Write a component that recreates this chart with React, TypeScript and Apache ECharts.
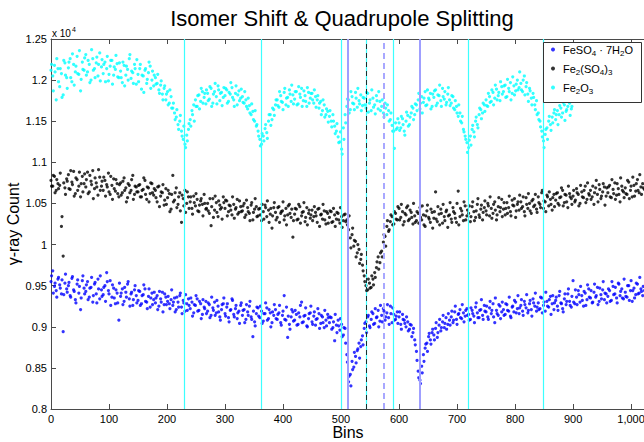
import React, { useEffect, useRef } from "react";
import * as echarts from "echarts";

// channel step between listed values (bins); set A starts at bin 0, set B at bin 1
const STEP = 3;

// Fe2O3 counts (x10^4), set A: bins 0,3,...,897
const fe2o3A = [
  1.212, 1.205, 1.218, 1.176, 1.214, 1.192, 1.208, 1.182, 1.221, 1.203,
  1.215, 1.226, 1.198, 1.219, 1.210, 1.229, 1.207, 1.187, 1.222, 1.212,
  1.231, 1.210, 1.219, 1.200, 1.226, 1.214, 1.221, 1.205, 1.233, 1.216,
  1.208, 1.222, 1.214, 1.199, 1.217, 1.224, 1.206, 1.213, 1.220, 1.203,
  1.211, 1.197, 1.218, 1.206, 1.213, 1.226, 1.202, 1.209, 1.219, 1.195,
  1.207, 1.214, 1.189, 1.205, 1.212, 1.196, 1.209, 1.217, 1.200, 1.193,
  1.203, 1.196, 1.188, 1.194, 1.183, 1.190, 1.176, 1.186, 1.172, 1.180,
  1.166, 1.160, 1.155, 1.146, 1.150, 1.138, 1.128, 1.122, 1.133, 1.140,
  1.152, 1.163, 1.170, 1.176, 1.168, 1.182, 1.174, 1.186, 1.179, 1.171,
  1.184, 1.177, 1.190, 1.172, 1.186, 1.180, 1.193, 1.175, 1.185, 1.179,
  1.181, 1.188, 1.174, 1.183, 1.191, 1.176, 1.184, 1.170, 1.187, 1.178,
  1.180, 1.172, 1.176, 1.165, 1.169, 1.158, 1.162, 1.150, 1.144, 1.138,
  1.128, 1.122, 1.132, 1.141, 1.136, 1.150, 1.158, 1.152, 1.164, 1.170,
  1.176, 1.167, 1.181, 1.173, 1.185, 1.170, 1.179, 1.188, 1.174, 1.182,
  1.177, 1.186, 1.171, 1.183, 1.190, 1.175, 1.181, 1.168, 1.185, 1.178,
  1.184, 1.172, 1.180, 1.176, 1.166, 1.174, 1.163, 1.170, 1.158, 1.162,
  1.156, 1.150, 1.158, 1.144, 1.138, 1.131, 1.125, 1.116, 1.142, 1.158,
  1.168, 1.176, 1.164, 1.180, 1.171, 1.185, 1.167, 1.175, 1.182, 1.169,
  1.178, 1.166, 1.184, 1.172, 1.163, 1.178, 1.170, 1.181, 1.165, 1.174,
  1.168, 1.160, 1.172, 1.158, 1.163, 1.152, 1.145, 1.138, 1.148, 1.142,
  1.148, 1.142, 1.153, 1.138, 1.150, 1.157, 1.146, 1.160, 1.166, 1.158,
  1.170, 1.176, 1.165, 1.180, 1.173, 1.186, 1.170, 1.178, 1.184, 1.168,
  1.179, 1.188, 1.172, 1.181, 1.175, 1.190, 1.177, 1.170, 1.183, 1.176,
  1.172, 1.180, 1.164, 1.168, 1.156, 1.160, 1.148, 1.140, 1.132, 1.124,
  1.118, 1.132, 1.140, 1.137, 1.150, 1.146, 1.158, 1.164, 1.160, 1.170,
  1.176, 1.168, 1.180, 1.174, 1.185, 1.178, 1.189, 1.181, 1.175, 1.192,
  1.186, 1.194, 1.180, 1.190, 1.197, 1.184, 1.193, 1.187, 1.200, 1.191,
  1.196, 1.186, 1.205, 1.192, 1.183, 1.190, 1.178, 1.184, 1.170, 1.175,
  1.160, 1.150, 1.138, 1.126, 1.134, 1.142, 1.150, 1.146, 1.155, 1.160,
  1.152, 1.163, 1.158, 1.166, 1.160, 1.170, 1.162, 1.168, 1.172, 1.165,
];
// Fe2O3 set B: bins 1,4,...,898
const fe2o3B = [
  1.219, 1.187, 1.210, 1.226, 1.198, 1.214, 1.179, 1.224, 1.206, 1.190,
  1.222, 1.203, 1.232, 1.194, 1.217, 1.208, 1.236, 1.201, 1.213, 1.227,
  1.206, 1.224, 1.197, 1.237, 1.212, 1.203, 1.228, 1.219, 1.199, 1.225,
  1.219, 1.198, 1.229, 1.207, 1.224, 1.195, 1.216, 1.230, 1.204, 1.221,
  1.203, 1.222, 1.193, 1.217, 1.200, 1.231, 1.211, 1.196, 1.214, 1.225,
  1.198, 1.219, 1.206, 1.185, 1.214, 1.201, 1.222, 1.190, 1.211, 1.206,
  1.195, 1.207, 1.184, 1.199, 1.176, 1.193, 1.183, 1.170, 1.188, 1.166,
  1.172, 1.152, 1.164, 1.140, 1.157, 1.132, 1.144, 1.118, 1.126, 1.147,
  1.144, 1.158, 1.150, 1.168, 1.181, 1.165, 1.190, 1.172, 1.184, 1.188,
  1.175, 1.192, 1.168, 1.183, 1.196, 1.171, 1.188, 1.184, 1.169, 1.191,
  1.190, 1.172, 1.185, 1.197, 1.179, 1.168, 1.193, 1.182, 1.175, 1.189,
  1.173, 1.186, 1.168, 1.178, 1.160, 1.171, 1.152, 1.163, 1.146, 1.132,
  1.120, 1.135, 1.126, 1.146, 1.129, 1.158, 1.145, 1.166, 1.157, 1.176,
  1.169, 1.186, 1.174, 1.164, 1.190, 1.178, 1.168, 1.183, 1.194, 1.171,
  1.186, 1.170, 1.192, 1.179, 1.168, 1.187, 1.174, 1.191, 1.172, 1.184,
  1.176, 1.188, 1.167, 1.181, 1.172, 1.158, 1.176, 1.155, 1.165, 1.149,
  1.163, 1.143, 1.150, 1.135, 1.147, 1.124, 1.137, 1.110, 1.128, 1.148,
  1.177, 1.160, 1.186, 1.172, 1.164, 1.178, 1.190, 1.171, 1.163, 1.179,
  1.170, 1.185, 1.161, 1.176, 1.188, 1.167, 1.159, 1.175, 1.186, 1.163,
  1.176, 1.155, 1.166, 1.170, 1.150, 1.160, 1.138, 1.117, 1.140, 1.153,
  1.139, 1.156, 1.146, 1.133, 1.161, 1.144, 1.155, 1.168, 1.152, 1.171,
  1.163, 1.184, 1.172, 1.160, 1.178, 1.169, 1.188, 1.176, 1.165, 1.183,
  1.187, 1.169, 1.182, 1.194, 1.168, 1.180, 1.186, 1.173, 1.191, 1.169,
  1.181, 1.166, 1.175, 1.160, 1.170, 1.150, 1.156, 1.137, 1.128, 1.112,
  1.127, 1.121, 1.145, 1.131, 1.155, 1.142, 1.166, 1.153, 1.172, 1.162,
  1.169, 1.184, 1.173, 1.188, 1.170, 1.194, 1.176, 1.185, 1.198, 1.183,
  1.193, 1.179, 1.201, 1.186, 1.176, 1.204, 1.182, 1.195, 1.188, 1.210,
  1.188, 1.200, 1.182, 1.197, 1.174, 1.187, 1.170, 1.179, 1.164, 1.158,
  1.152, 1.143, 1.131, 1.118, 1.140, 1.128, 1.156, 1.139, 1.148, 1.164,
  1.158, 1.146, 1.169, 1.155, 1.173, 1.151, 1.164, 1.174, 1.157, 1.168,
];

// Fe2(SO4)3 counts (x10^4), set A: bins 0,3,...,1023
const fe2so43A = [
  1.078, 1.071, 1.083, 1.066, 1.074, 1.072, 1.022, 0.986, 1.069, 1.080,
  1.085, 1.067, 1.076, 1.089, 1.062, 1.079, 1.071, 1.058, 1.083, 1.074,
  1.070, 1.088, 1.064, 1.077, 1.090, 1.068, 1.075, 1.060, 1.082, 1.071,
  1.066, 1.078, 1.073, 1.087, 1.061, 1.072, 1.080, 1.065, 1.074, 1.058,
  1.075, 1.063, 1.081, 1.069, 1.057, 1.072, 1.066, 1.084, 1.061, 1.070,
  1.064, 1.073, 1.058, 1.067, 1.078, 1.055, 1.069, 1.062, 1.074, 1.060,
  1.066, 1.052, 1.071, 1.059, 1.063, 1.048, 1.068, 1.057, 1.062, 1.043,
  1.084, 1.054, 1.069, 1.049, 1.063, 1.027, 1.056, 1.066, 1.050, 1.058,
  1.052, 1.044, 1.059, 1.047, 1.055, 1.040, 1.053, 1.049, 1.061, 1.043,
  1.050, 1.038, 1.023, 1.056, 1.042, 1.051, 1.034, 1.048, 1.045, 1.058,
  1.044, 1.053, 1.040, 1.047, 1.036, 1.049, 1.043, 1.055, 1.039, 1.046,
  1.041, 1.050, 1.036, 1.045, 1.038, 1.048, 1.030, 1.043, 1.046, 1.035,
  1.044, 1.029, 1.040, 1.048, 1.034, 1.042, 1.037, 1.020, 1.045, 1.039,
  1.033, 1.046, 1.038, 1.041, 1.030, 1.044, 1.036, 1.049, 1.033, 1.009,
  1.037, 1.043, 1.031, 1.046, 1.035, 1.040, 1.028, 1.045, 1.038, 1.032,
  1.042, 1.034, 1.039, 1.027, 1.044, 1.036, 1.031, 1.041, 1.025, 1.038,
  1.033, 1.040, 1.028, 1.036, 1.031, 1.038, 1.026, 1.034, 1.029, 1.037,
  1.030, 1.018, 1.008, 1.012, 0.998, 1.004, 0.990, 0.994, 0.982, 0.975,
  0.962, 0.950, 0.945, 0.953, 0.948, 0.958, 0.966, 0.972, 0.985, 0.978,
  0.992, 1.003, 1.010, 1.022, 1.016, 1.028, 1.034, 1.025, 1.038, 1.030,
  1.044, 1.033, 1.040, 1.028, 1.036, 1.047, 1.031, 1.039, 1.025, 1.035,
  1.029, 1.038, 1.045, 1.030, 1.036, 1.022, 1.041, 1.033, 1.027, 1.039,
  1.032, 1.064, 1.028, 1.037, 1.043, 1.026, 1.034, 1.040, 1.021, 1.036,
  1.031, 1.045, 1.038, 1.027, 1.065, 1.034, 1.041, 1.029, 1.047, 1.035,
  1.038, 1.028, 1.046, 1.040, 1.033, 1.049, 1.036, 1.043, 1.030, 1.045,
  1.041, 1.050, 1.035, 1.044, 1.038, 1.052, 1.030, 1.046, 1.040, 1.055,
  1.043, 1.036, 1.051, 1.045, 1.040, 1.054, 1.047, 1.033, 1.049, 1.042,
  1.052, 1.046, 1.040, 1.057, 1.044, 1.050, 1.038, 1.055, 1.048, 1.043,
  1.058, 1.049, 1.063, 1.044, 1.052, 1.060, 1.047, 1.055, 1.042, 1.061,
  1.054, 1.063, 1.048, 1.058, 1.066, 1.051, 1.060, 1.045, 1.062, 1.056,
  1.059, 1.052, 1.068, 1.061, 1.050, 1.064, 1.057, 1.071, 1.055, 1.062,
  1.066, 1.058, 1.049, 1.069, 1.061, 1.073, 1.056, 1.064, 1.070, 1.059,
  1.063, 1.072, 1.057, 1.067, 1.075, 1.060, 1.068, 1.052, 1.071, 1.064,
  1.069, 1.061, 1.076, 1.066, 1.058, 1.072, 1.065, 1.079, 1.063, 1.070,
  1.074, 1.067,
];
// Fe2(SO4)3 set B: bins 1,4,...,1021
const fe2so43B = [
  1.071, 1.084, 1.063, 1.079, 1.068, 1.087, 1.034, 1.075, 1.061, 1.077,
  1.068, 1.090, 1.073, 1.059, 1.081, 1.066, 1.088, 1.074, 1.064, 1.086,
  1.079, 1.062, 1.084, 1.073, 1.056, 1.081, 1.070, 1.091, 1.066, 1.077,
  1.082, 1.059, 1.070, 1.064, 1.083, 1.055, 1.068, 1.079, 1.062, 1.073,
  1.060, 1.077, 1.066, 1.052, 1.074, 1.063, 1.079, 1.055, 1.071, 1.064,
  1.072, 1.058, 1.066, 1.081, 1.061, 1.070, 1.052, 1.075, 1.063, 1.068,
  1.057, 1.070, 1.046, 1.064, 1.073, 1.054, 1.049, 1.066, 1.040, 1.061,
  1.052, 1.063, 1.045, 1.058, 1.041, 1.060, 1.047, 1.039, 1.064, 1.044,
  1.058, 1.037, 1.051, 1.062, 1.041, 1.048, 1.056, 1.035, 1.050, 1.044,
  1.041, 1.056, 1.046, 1.033, 1.059, 1.039, 1.053, 1.043, 1.031, 1.051,
  1.054, 1.035, 1.048, 1.042, 1.058, 1.032, 1.045, 1.037, 1.053, 1.040,
  1.047, 1.033, 1.054, 1.040, 1.029, 1.051, 1.039, 1.056, 1.034, 1.043,
  1.036, 1.049, 1.031, 1.045, 1.053, 1.027, 1.044, 1.035, 1.051, 1.030,
  1.045, 1.027, 1.040, 1.052, 1.035, 1.024, 1.047, 1.038, 1.043, 1.029,
  1.044, 1.030, 1.049, 1.026, 1.039, 1.051, 1.033, 1.024, 1.042, 1.036,
  1.029, 1.046, 1.035, 1.043, 1.022, 1.037, 1.049, 1.030, 1.040, 1.026,
  1.041, 1.027, 1.044, 1.022, 1.039, 1.030, 1.045, 1.021, 1.036, 1.028,
  1.024, 1.035, 0.996, 1.020, 1.005, 0.985, 1.000, 0.977, 0.988, 0.968,
  0.955, 0.944, 0.958, 0.947, 0.962, 0.951, 0.960, 0.979, 0.970, 0.990,
  0.985, 1.012, 0.998, 1.029, 1.018, 1.036, 1.024, 1.040, 1.031, 1.046,
  1.030, 1.049, 1.024, 1.038, 1.045, 1.029, 1.042, 1.033, 1.050, 1.027,
  1.040, 1.026, 1.033, 1.047, 1.024, 1.035, 1.048, 1.031, 1.043, 1.020,
  1.040, 1.031, 1.046, 1.024, 1.038, 1.049, 1.029, 1.042, 1.035, 1.051,
  1.027, 1.040, 1.032, 1.050, 1.024, 1.044, 1.036, 1.052, 1.030, 1.042,
  1.047, 1.034, 1.052, 1.029, 1.041, 1.056, 1.033, 1.048, 1.039, 1.053,
  1.036, 1.047, 1.058, 1.032, 1.049, 1.042, 1.036, 1.057, 1.045, 1.034,
  1.051, 1.044, 1.038, 1.059, 1.035, 1.048, 1.056, 1.041, 1.052, 1.060,
  1.044, 1.058, 1.035, 1.049, 1.062, 1.041, 1.053, 1.046, 1.061, 1.039,
  1.051, 1.045, 1.066, 1.053, 1.040, 1.058, 1.064, 1.049, 1.057, 1.046,
  1.062, 1.050, 1.057, 1.069, 1.047, 1.061, 1.052, 1.071, 1.058, 1.049,
  1.066, 1.054, 1.063, 1.047, 1.072, 1.058, 1.066, 1.051, 1.075, 1.060,
  1.055, 1.071, 1.063, 1.078, 1.052, 1.067, 1.059, 1.074, 1.048, 1.069,
  1.070, 1.058, 1.079, 1.062, 1.055, 1.074, 1.061, 1.081, 1.066, 1.057,
  1.062, 1.078, 1.056, 1.071, 1.082, 1.059, 1.074, 1.066, 1.085, 1.061,
  1.069,
];

// FeSO4·7H2O counts (x10^4), set A: bins 0,3,...,1023
const feso4A = [
  0.955, 0.968, 0.949, 0.944, 0.958, 0.951, 0.940, 0.894, 0.953, 0.946,
  0.950, 0.938, 0.959, 0.945, 0.933, 0.952, 0.941, 0.921, 0.956, 0.947,
  0.943, 0.955, 0.936, 0.948, 0.930, 0.952, 0.940, 0.958, 0.934, 0.945,
  0.939, 0.950, 0.966, 0.944, 0.956, 0.936, 0.947, 0.928, 0.941, 0.908,
  0.937, 0.946, 0.931, 0.942, 0.952, 0.934, 0.940, 0.926, 0.945, 0.938,
  0.932, 0.943, 0.928, 0.939, 0.946, 0.930, 0.937, 0.924, 0.941, 0.933,
  0.929, 0.938, 0.925, 0.934, 0.942, 0.927, 0.936, 0.931, 0.928, 0.933,
  0.926, 0.935, 0.921, 0.930, 0.938, 0.924, 0.932, 0.919, 0.928, 0.934,
  0.922, 0.930, 0.917, 0.926, 0.934, 0.920, 0.928, 0.915, 0.924, 0.931,
  0.919, 0.927, 0.914, 0.923, 0.930, 0.917, 0.925, 0.912, 0.921, 0.928,
  0.916, 0.924, 0.911, 0.920, 0.934, 0.915, 0.922, 0.910, 0.919, 0.926,
  0.914, 0.921, 0.909, 0.918, 0.925, 0.912, 0.888, 0.906, 0.916, 0.923,
  0.911, 0.919, 0.907, 0.916, 0.923, 0.910, 0.917, 0.905, 0.914, 0.921,
  0.909, 0.917, 0.905, 0.914, 0.938, 0.908, 0.887, 0.903, 0.912, 0.918,
  0.908, 0.915, 0.903, 0.912, 0.930, 0.906, 0.914, 0.901, 0.910, 0.917,
  0.906, 0.913, 0.902, 0.910, 0.916, 0.904, 0.912, 0.899, 0.908, 0.915,
  0.905, 0.911, 0.899, 0.883, 0.902, 0.908, 0.896, 0.903, 0.890, 0.898,
  0.866, 0.833, 0.842, 0.858, 0.851, 0.864, 0.871, 0.880, 0.876, 0.889,
  0.898, 0.906, 0.912, 0.901, 0.909, 0.916, 0.904, 0.911, 0.920, 0.907,
  0.914, 0.922, 0.908, 0.917, 0.911, 0.925, 0.905, 0.915, 0.909, 0.918,
  0.912, 0.903, 0.915, 0.908, 0.900, 0.906, 0.897, 0.902, 0.893, 0.884,
  0.870, 0.846, 0.835, 0.852, 0.866, 0.874, 0.880, 0.888, 0.884, 0.893,
  0.890, 0.898, 0.887, 0.902, 0.895, 0.906, 0.899, 0.911, 0.903, 0.908,
  0.912, 0.905, 0.918, 0.909, 0.915, 0.921, 0.910, 0.917, 0.913, 0.922,
  0.915, 0.909, 0.920, 0.913, 0.924, 0.917, 0.911, 0.921, 0.914, 0.926,
  0.918, 0.912, 0.923, 0.916, 0.928, 0.905, 0.920, 0.914, 0.925, 0.918,
  0.921, 0.915, 0.927, 0.919, 0.913, 0.924, 0.918, 0.930, 0.922, 0.916,
  0.926, 0.919, 0.931, 0.923, 0.917, 0.928, 0.921, 0.934, 0.925, 0.919,
  0.929, 0.922, 0.935, 0.926, 0.919, 0.931, 0.924, 0.937, 0.928, 0.921,
  0.932, 0.925, 0.938, 0.929, 0.922, 0.934, 0.927, 0.940, 0.931, 0.924,
  0.956, 0.928, 0.936, 0.944, 0.930, 0.938, 0.925, 0.941, 0.933, 0.946,
  0.935, 0.929, 0.942, 0.936, 0.948, 0.931, 0.939, 0.945, 0.933, 0.940,
  0.937, 0.944, 0.932, 0.949, 0.940, 0.935, 0.953, 0.938, 0.946, 0.934,
  0.942, 0.936, 0.950, 0.944, 0.931, 0.947, 0.939, 0.952, 0.941, 0.946,
  0.938, 0.944,
];
// FeSO4·7H2O set B: bins 1,4,...,1021
const feso4B = [
  0.962, 0.941, 0.953, 0.936, 0.960, 0.947, 0.957, 0.939, 0.964, 0.942,
  0.954, 0.936, 0.961, 0.943, 0.929, 0.957, 0.949, 0.935, 0.962, 0.940,
  0.951, 0.933, 0.947, 0.960, 0.938, 0.954, 0.929, 0.946, 0.962, 0.937,
  0.948, 0.931, 0.955, 0.940, 0.926, 0.951, 0.935, 0.945, 0.929, 0.953,
  0.941, 0.927, 0.948, 0.936, 0.955, 0.925, 0.942, 0.933, 0.950, 0.929,
  0.944, 0.926, 0.938, 0.951, 0.931, 0.922, 0.946, 0.935, 0.927, 0.942,
  0.935, 0.921, 0.943, 0.930, 0.918, 0.940, 0.927, 0.937, 0.922, 0.945,
  0.930, 0.918, 0.936, 0.924, 0.941, 0.916, 0.929, 0.939, 0.920, 0.926,
  0.935, 0.913, 0.927, 0.938, 0.919, 0.931, 0.910, 0.933, 0.922, 0.916,
  0.929, 0.911, 0.936, 0.920, 0.914, 0.932, 0.918, 0.908, 0.927, 0.935,
  0.913, 0.928, 0.906, 0.921, 0.932, 0.912, 0.926, 0.917, 0.904, 0.929,
  0.920, 0.905, 0.927, 0.914, 0.931, 0.909, 0.919, 0.901, 0.924, 0.913,
  0.925, 0.904, 0.916, 0.929, 0.908, 0.921, 0.900, 0.918, 0.927, 0.910,
  0.915, 0.926, 0.902, 0.919, 0.909, 0.924, 0.913, 0.897, 0.921, 0.907,
  0.920, 0.902, 0.917, 0.926, 0.905, 0.913, 0.923, 0.900, 0.916, 0.925,
  0.903, 0.918, 0.909, 0.922, 0.898, 0.914, 0.905, 0.920, 0.901, 0.911,
  0.912, 0.897, 0.906, 0.915, 0.893, 0.901, 0.910, 0.888, 0.899, 0.880,
  0.857, 0.840, 0.828, 0.848, 0.869, 0.856, 0.873, 0.862, 0.884, 0.878,
  0.904, 0.893, 0.914, 0.899, 0.918, 0.903, 0.922, 0.912, 0.900, 0.926,
  0.906, 0.919, 0.912, 0.927, 0.903, 0.916, 0.923, 0.908, 0.913, 0.904,
  0.918, 0.897, 0.909, 0.904, 0.912, 0.895, 0.903, 0.888, 0.898, 0.878,
  0.859, 0.838, 0.831, 0.844, 0.858, 0.879, 0.870, 0.892, 0.879, 0.897,
  0.884, 0.905, 0.893, 0.909, 0.899, 0.914, 0.904, 0.897, 0.916, 0.902,
  0.919, 0.908, 0.925, 0.903, 0.916, 0.911, 0.927, 0.906, 0.920, 0.914,
  0.908, 0.923, 0.916, 0.905, 0.929, 0.911, 0.920, 0.933, 0.909, 0.919,
  0.925, 0.909, 0.931, 0.920, 0.912, 0.935, 0.916, 0.927, 0.910, 0.930,
  0.914, 0.928, 0.920, 0.936, 0.911, 0.925, 0.932, 0.917, 0.938, 0.923,
  0.933, 0.914, 0.927, 0.939, 0.920, 0.932, 0.913, 0.929, 0.941, 0.924,
  0.921, 0.936, 0.917, 0.930, 0.942, 0.925, 0.933, 0.915, 0.938, 0.929,
  0.936, 0.920, 0.943, 0.928, 0.918, 0.940, 0.931, 0.946, 0.926, 0.937,
  0.930, 0.945, 0.927, 0.939, 0.949, 0.932, 0.943, 0.926, 0.951, 0.936,
  0.944, 0.930, 0.952, 0.938, 0.927, 0.947, 0.934, 0.955, 0.941, 0.929,
  0.946, 0.931, 0.955, 0.939, 0.948, 0.929, 0.952, 0.943, 0.935, 0.958,
  0.937, 0.950, 0.932, 0.956, 0.944, 0.935, 0.953, 0.940, 0.960, 0.943,
  0.949,
];

// reference lines (bins)
const fe2o3Peaks = [229, 362, 500, 590, 719, 848];
const feso4Peaks = [512, 636];
const feso4Center = 574;
const fe2so43Center = 543;

const xTicks = { min: 0, max: 1024, interval: 100 };
const yTicks = { min: 0.8, max: 1.25, interval: 0.05 };

const NAMES = ["FeSO4 · 7H2O", "Fe2(SO4)3", "Fe2O3"];
const RICH_NAMES: Record<string, string> = {
  "FeSO4 · 7H2O": "FeSO{s|4} · 7H{s|2}O",
  "Fe2(SO4)3": "Fe{s|2}(SO{s|4}){s|3}",
  "Fe2O3": "Fe{s|2}O{s|3}",
};

const FONT = "Liberation Sans, Arial, Helvetica, sans-serif";

const pairs = (a: number[], b: number[]) => [
  ...a.map((v, i) => [i * STEP, v]),
  ...b.map((v, i) => [i * STEP + 1, v]),
];

export default function App() {
  const ref = useRef<HTMLDivElement>(null);
  useEffect(() => {
    if (!ref.current) return;
    const chart = echarts.init(ref.current, null, { renderer: "svg" });
    const cyanLine = { color: "#3cffff", width: 1.2, type: "solid" };
    const markData: any[] = [
      ...fe2o3Peaks.map((b) => ({ xAxis: b, lineStyle: cyanLine })),
      { xAxis: fe2so43Center, lineStyle: cyanLine },
      { xAxis: fe2so43Center, lineStyle: { color: "#1a3030", width: 1, type: [5, 4] } },
      ...feso4Peaks.map((b) => ({ xAxis: b, lineStyle: { color: "#9f9fff", width: 2, type: "solid" } })),
      { xAxis: feso4Center, lineStyle: { color: "#a8a8ff", width: 2, type: [6, 4] } },
    ];
    const axisLine = { lineStyle: { color: "#4a4a4a", width: 1 } };
    const axisLabel = { color: "#000", fontSize: 11, fontFamily: FONT };
    const tick = { inside: true, length: 5, lineStyle: { color: "#4a4a4a" } };
    chart.setOption({
      animation: false,
      backgroundColor: "#fff",
      textStyle: { fontFamily: FONT },
      grid: {
        left: 51,
        right: -1,
        top: 39,
        bottom: 33,
        containLabel: false,
        outerBoundsMode: "none",
      },
      xAxis: [
        {
          type: "value",
          ...xTicks,
          name: "Bins",
          nameLocation: "middle",
          nameGap: 14,
          nameMoveOverlap: false,
          nameTextStyle: { fontSize: 16, color: "#000", fontFamily: FONT, lineHeight: 18 },
          axisLine,
          axisTick: tick,
          axisLabel: { ...axisLabel, margin: 4, showMaxLabel: false },
          splitLine: { show: false },
        },
        {
          type: "value",
          position: "top",
          ...xTicks,
          axisLine,
          axisTick: tick,
          axisLabel: { show: false },
          splitLine: { show: false },
        },
      ],
      yAxis: {
        type: "value",
        ...yTicks,
        name: "γ-ray Count",
        nameLocation: "middle",
        nameGap: 29,
        nameMoveOverlap: false,
        nameRotate: 90,
        nameTextStyle: { fontSize: 16, color: "#000", fontFamily: FONT, lineHeight: 18 },
        axisLine: { show: true, ...axisLine },
        axisTick: tick,
        axisLabel: { ...axisLabel, margin: 4 },
        splitLine: { show: false },
      },
      legend: {
        data: NAMES,
        orient: "vertical",
        left: 545,
        top: 42,
        z: 60,
        itemWidth: 10,
        itemHeight: 4,
        itemGap: 6,
        padding: [2, 4, 2, 6],
        icon: "circle",
        formatter: (n: string) => RICH_NAMES[n] || n,
        textStyle: {
          fontSize: 11,
          color: "#000",
          fontFamily: FONT,
          rich: { s: { fontSize: 8, padding: [7, 0, 0, 0], fontFamily: FONT, color: "#000" } },
        },
      },
      graphic: [
        {
          type: "rect",
          z: 50,
          shape: { x: 543.5, y: 42.5, width: 98, height: 60 },
          style: { fill: "#fff", stroke: "#333", lineWidth: 1 },
        },
        {
          type: "text",
          z: 50,
          x: 342,
          y: 18,
          style: {
            text: "Isomer Shift & Quadrupole Splitting",
            fontSize: 22,
            fontFamily: FONT,
            fill: "#000",
            textAlign: "center",
            textVerticalAlign: "middle",
          },
        },
        {
          type: "text",
          z: 50,
          x: 52,
          y: 26,
          style: {
            text: "x 10{p|4}",
            fontSize: 10,
            fontFamily: FONT,
            fill: "#000",
            rich: { p: { fontSize: 7, padding: [0, 0, 8, 1], fontFamily: FONT } },
          },
        },
      ],
      series: [
        {
          type: "scatter",
          name: "refLines",
          data: [],
          z: 1,
          markLine: {
            silent: true,
            symbol: "none",
            label: { show: false },
            animation: false,
            data: markData,
          },
        },
        {
          type: "scatter",
          name: NAMES[0],
          data: pairs(feso4A, feso4B),
          symbol: "circle",
          symbolSize: 3.2,
          itemStyle: { color: "#0000ff" },
          z: 3,
        },
        {
          type: "scatter",
          name: NAMES[1],
          data: pairs(fe2so43A, fe2so43B),
          symbol: "circle",
          symbolSize: 3.2,
          itemStyle: { color: "#000000" },
          z: 3,
        },
        {
          type: "scatter",
          name: NAMES[2],
          data: pairs(fe2o3A, fe2o3B),
          symbol: "circle",
          symbolSize: 3.2,
          itemStyle: { color: "#00ffff" },
          z: 3,
        },
      ],
    });
    return () => chart.dispose();
  }, []);
  return (
    <div
      ref={ref}
      style={{ position: "fixed", left: 0, top: 0, width: 644, height: 442 }}
    />
  );
}
